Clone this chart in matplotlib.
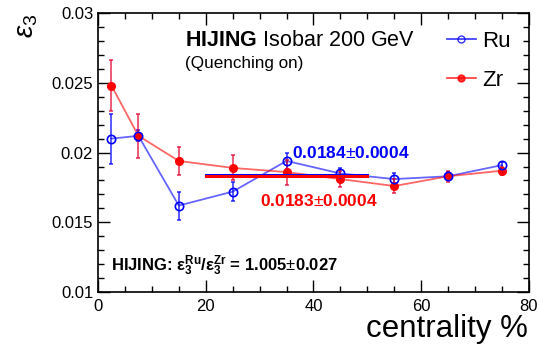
import matplotlib
matplotlib.use('Agg')
import matplotlib.pyplot as plt
from matplotlib.ticker import MultipleLocator
from matplotlib.lines import Line2D

plt.rcParams['font.family'] = ['Liberation Sans', 'DejaVu Sans']
plt.rcParams['mathtext.fontset'] = 'custom'
plt.rcParams['mathtext.rm'] = 'Liberation Sans'
plt.rcParams['mathtext.it'] = 'Liberation Sans:italic'
plt.rcParams['mathtext.bf'] = 'Liberation Sans:bold'

# 数据
centrality = [2.5, 7.5, 15, 25, 35, 45, 55, 65, 75]
ru_eps3 = [0.0210, 0.0212, 0.0162, 0.0172, 0.0194, 0.0185, 0.0181, 0.0183, 0.0191]
ru_err = [0.0018, 0.0004, 0.0010, 0.0007, 0.0006, 0.0004, 0.0004, 0.0003, 0.0002]
zr_eps3 = [0.0248, 0.0212, 0.0194, 0.0189, 0.0186, 0.0181, 0.0176, 0.0183, 0.0187]
zr_err = [0.0018, 0.0016, 0.0010, 0.0009, 0.0009, 0.0006, 0.0005, 0.0004, 0.0003]
avg_range = [20, 50]
ru_avg = 0.0184
zr_avg = 0.0183

BLUE = '#0000ff'
RED = '#ff0000'

fig = plt.figure(figsize=(5.4, 3.44), dpi=100)
ax = fig.add_axes([0.1815, 0.151, 0.798, 0.811])

# 连线
ax.plot(centrality, ru_eps3, '-', color=BLUE, alpha=0.6, lw=1.3, zorder=2)
ax.plot(centrality, zr_eps3, '-', color=RED, alpha=0.6, lw=1.3, zorder=2)

# 误差棒
ax.errorbar(centrality, ru_eps3, yerr=ru_err, fmt='none', ecolor=BLUE,
            alpha=0.7, elinewidth=1.3, capsize=1.5, capthick=1.3, zorder=3)
ax.errorbar(centrality, zr_eps3, yerr=zr_err, fmt='none', ecolor='#e0002a',
            alpha=0.7, elinewidth=1.3, capsize=1.5, capthick=1.3, zorder=3)

# 标记
ax.plot(centrality, ru_eps3, 'o', ms=6, mfc='none', mec=BLUE, mew=1.2, zorder=5)
ax.plot(centrality, zr_eps3, 'o', ms=5.5, mfc=RED, mec=RED, zorder=4)

# 平均值横线
ax.plot(avg_range, [ru_avg, ru_avg], color=BLUE, lw=2.2, zorder=6)
ax.plot(avg_range, [zr_avg, zr_avg], color=RED, lw=2.2, zorder=6)

ax.text(36.0, 0.0200, r'0.0184$\pm$0.0004', color=BLUE, fontsize=12.5,
        fontweight='bold', ha='left', va='center')
ax.text(30.1, 0.01652, r'0.0183$\pm$0.0004', color=RED, fontsize=12.5,
        fontweight='bold', ha='left', va='center')

ax.text(0.202, 0.903, r'$\mathbf{HIJING}$ Isobar 200 GeV', transform=ax.transAxes,
        fontsize=15.5, ha='left', va='center')
ax.text(0.202, 0.821, '(Quenching on)', transform=ax.transAxes, fontsize=12.3,
        ha='left', va='center')

ax.text(0.030, 0.093, r'HIJING: $\mathbf{\epsilon_3^{Ru}/\epsilon_3^{Zr}}$ = 1.005$\pm$0.027',
        transform=ax.transAxes, fontsize=12, fontweight='bold',
        ha='left', va='center')

handles = [
    Line2D([], [], color=BLUE, alpha=0.8, lw=1.2, marker='o', ms=5,
           mfc='none', mec=BLUE),
    Line2D([], [], color=RED, alpha=0.8, lw=1.2, marker='o', ms=5,
           mfc=RED, mec=RED),
]
ax.legend(handles, ['Ru', 'Zr'], loc='upper left', bbox_to_anchor=(0.81, 0.935),
          borderaxespad=0, borderpad=0, frameon=False, fontsize=16,
          handlelength=1.3, handletextpad=0.27, labelspacing=0.78)

ax.set_xlim(0, 80)
ax.set_ylim(0.01, 0.03)
ax.xaxis.set_major_locator(MultipleLocator(20))
ax.xaxis.set_minor_locator(MultipleLocator(5))
ax.yaxis.set_major_locator(MultipleLocator(0.005))
ax.yaxis.set_minor_locator(MultipleLocator(0.001))
ax.set_yticks([0.01, 0.015, 0.02, 0.025, 0.03])
ax.set_yticklabels(['0.01', '0.015', '0.02', '0.025', '0.03'])
ax.tick_params(which='both', direction='in', top=True, right=True,
               labelsize=12, width=1)
ax.tick_params(which='major', length=8.5)
ax.tick_params(which='minor', length=4)
ax.tick_params(axis='x', pad=5)
for sp in ax.spines.values():
    sp.set_linewidth(1.2)

fig.text(0.978, 0.0, 'centrality %', fontsize=22.5, ha='right', va='bottom')
fig.text(0.05, 0.96, r'$\epsilon_3$', fontsize=20, rotation=90,
         ha='center', va='top')

plt.savefig('out.png', dpi=100)
plt.close()
